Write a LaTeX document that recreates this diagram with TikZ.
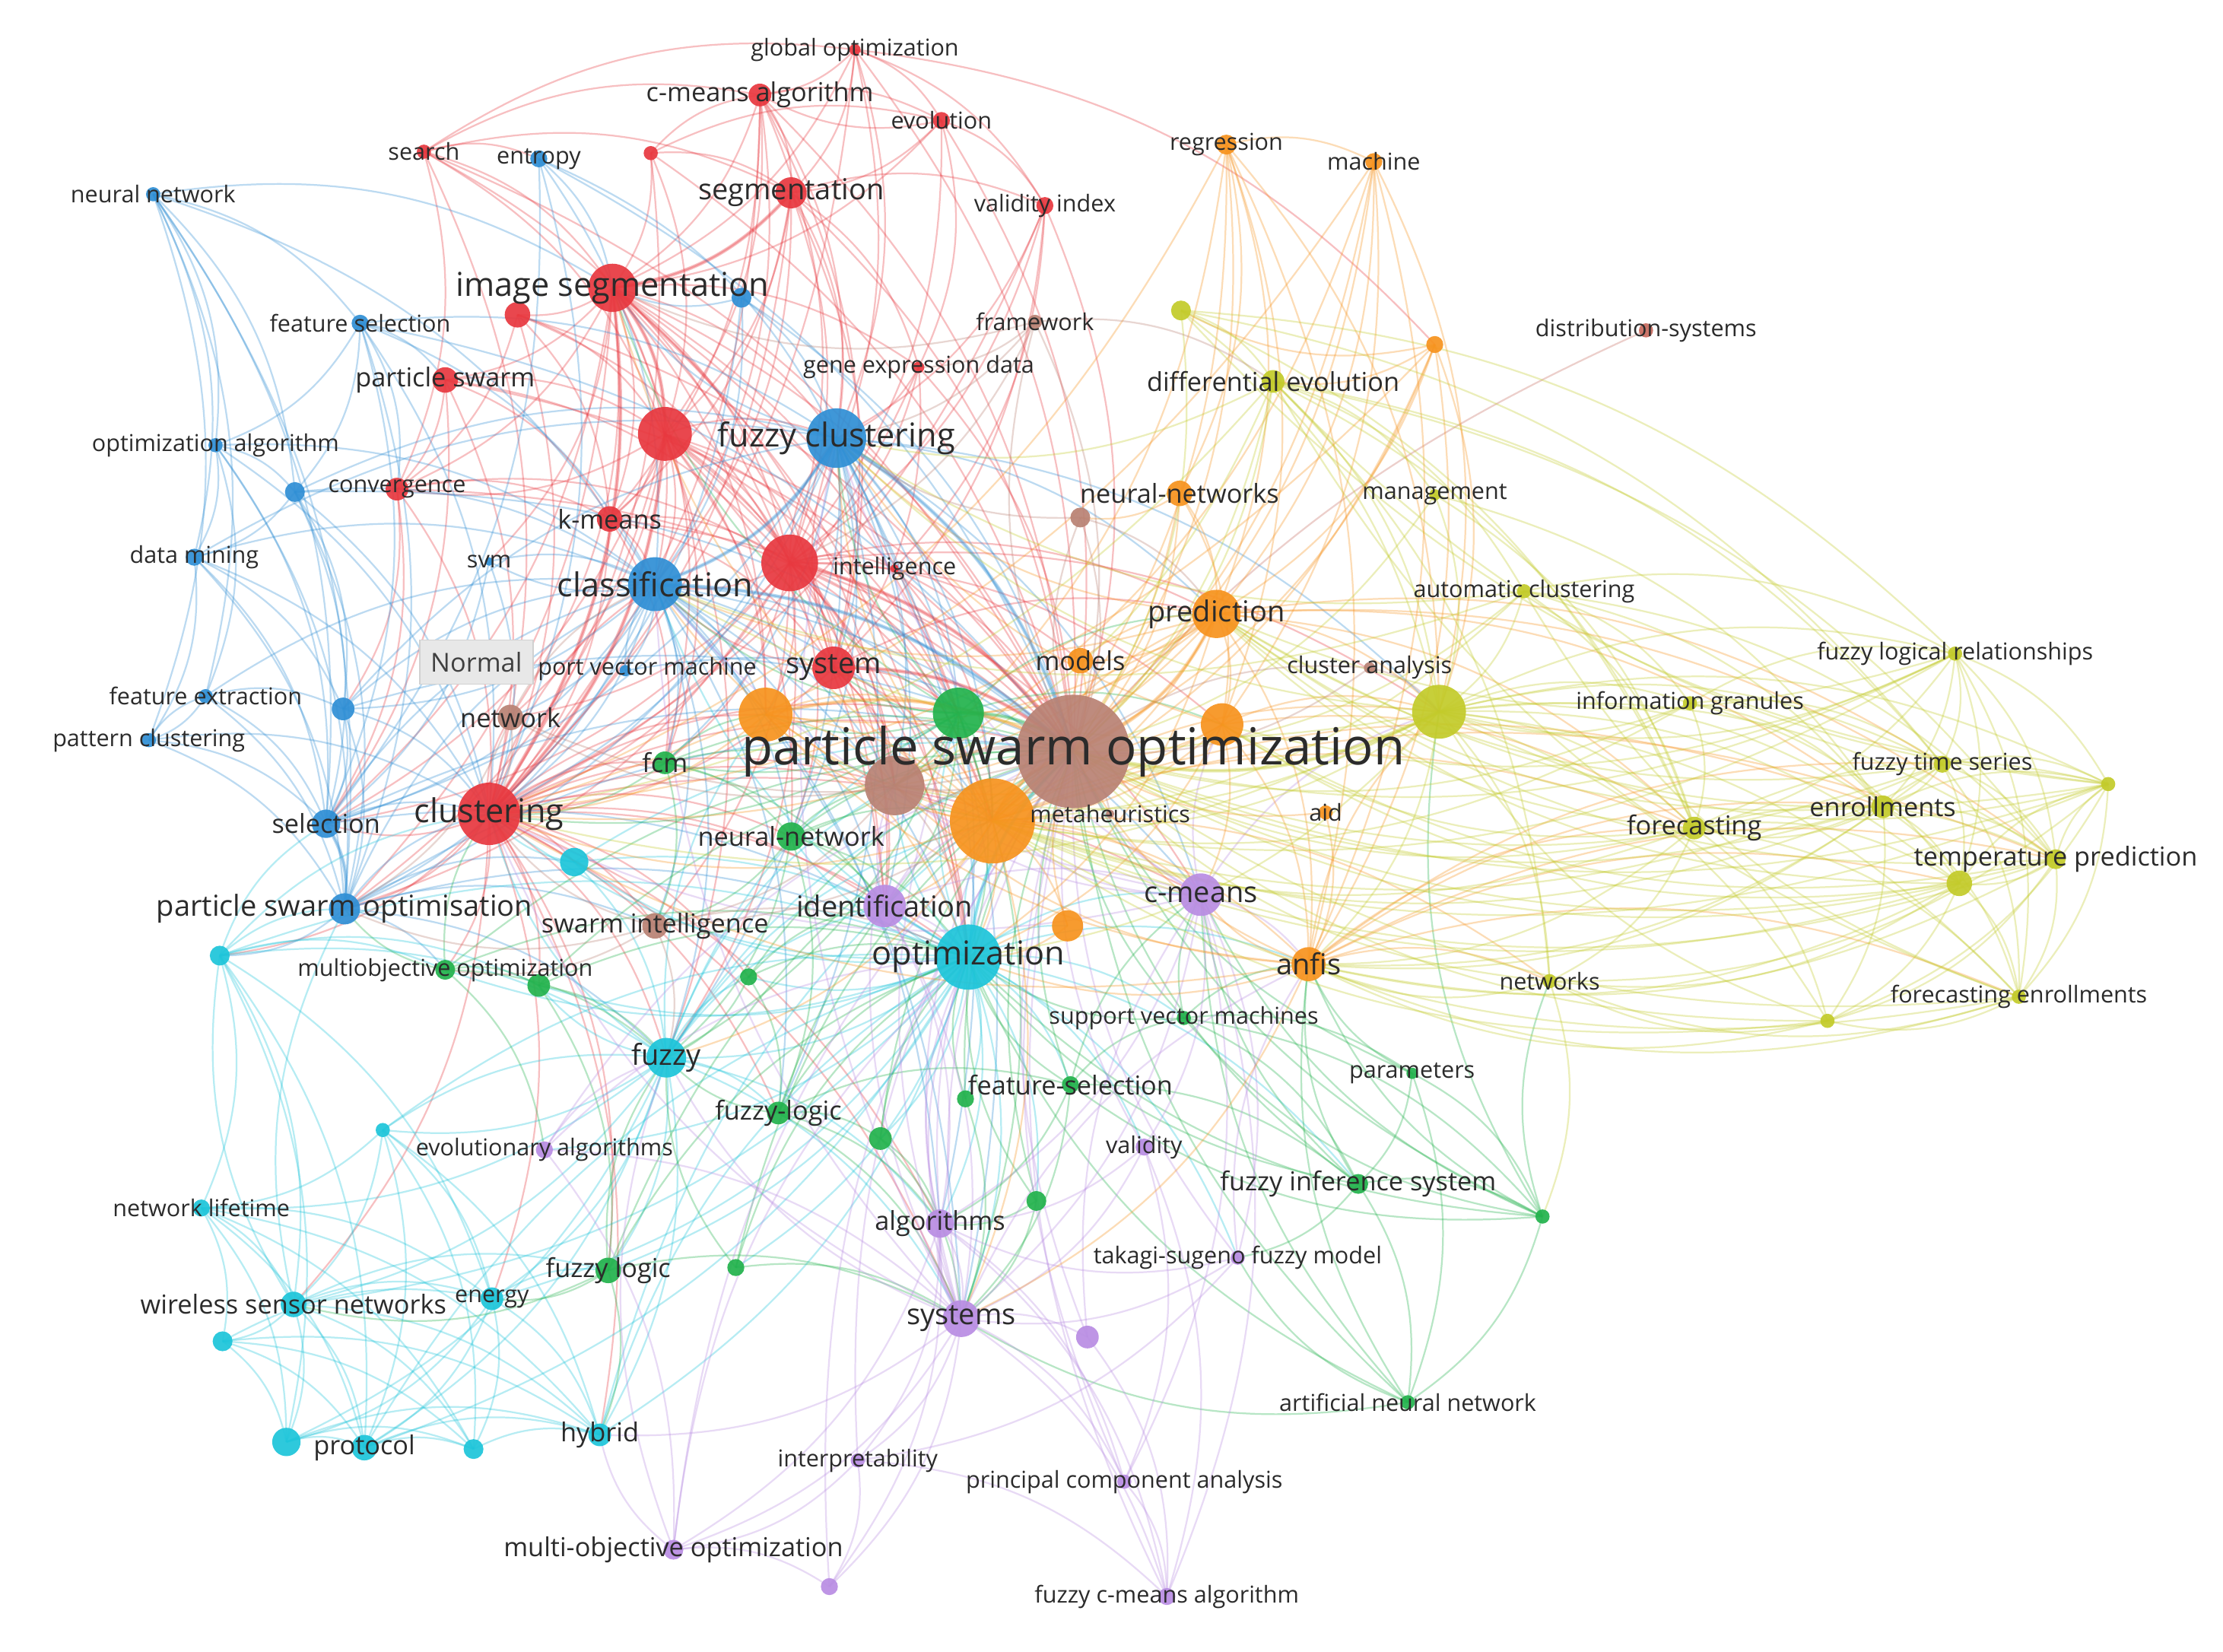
\documentclass[tikz,border=0pt]{standalone}
\usepackage{fontspec}
\setmainfont{Open Sans}
\pgfdeclarelayer{bg}
\pgfdeclarelayer{edges}
\pgfsetlayers{bg,edges,main}
\definecolor{cr}{HTML}{E8383F}
\definecolor{cb}{HTML}{2F8FD5}
\definecolor{cc}{HTML}{1DC5DA}
\definecolor{cg}{HTML}{22B24C}
\definecolor{cp}{HTML}{B98DE3}
\definecolor{co}{HTML}{F7931E}
\definecolor{cy}{HTML}{C3CB2A}
\definecolor{cbr}{HTML}{B98274}
\definecolor{cdist}{HTML}{C76A5E}
\definecolor{lbl}{HTML}{2B2B2B}
\tikzset{
  dot/.style={circle,inner sep=0pt,outer sep=0pt,fill opacity=0.92,draw=none},
  ed/.style={line width=0.6pt,draw opacity=0.32},
  edthick/.style={line width=1.3pt,draw opacity=0.32},
  l1/.style={font=\fontsize{8.2}{9}\selectfont,text=lbl,inner sep=0pt},
  l2/.style={font=\fontsize{9.2}{10}\selectfont,text=lbl,inner sep=0pt},
  l3/.style={font=\fontsize{10.2}{11}\selectfont,text=lbl,inner sep=0pt},
  l4/.style={font=\fontsize{11.6}{12}\selectfont,text=lbl,inner sep=0pt},
  l5/.style={font=\fontsize{18}{19}\selectfont,text=lbl,inner sep=0pt},
  tipbox/.style={draw=black!18,fill=black!9,text=black!75,font=\fontsize{9.2}{10}\selectfont,minimum width=40pt,minimum height=15.5pt,inner sep=0pt},
  curve/.style={bend left=20}
}
\begin{document}
\begin{tikzpicture}[x=0.5pt,y=-0.5pt]
\begin{pgfonlayer}{bg}
\path[use as bounding box,fill=white] (0,0) rectangle (1568,1165);
\end{pgfonlayer}
% ---------------- nodes (circles) ----------------
\foreach \n/\x/\y/\r in {gopt/603/35/4,cmalg/536/67/8,evol/664/85/6,search/299/107/5,rA/459/108/5,seg/558/136/11,valid/737/145/6,imseg/432/203/17,rB/365/222/9,pswarm/314/268/9,rC/469/306/19,gene/648/259/4,conv/280/345/8,kmeans/430/366/9,rD/557/397/20,intel/631/401/3,system/588/471/15,clust/345/574/22}
  \node[dot,fill=cr,minimum size=\r pt] (\n) at (\x,\y) {};
\node[dot,fill=cdist,minimum size=5pt] (dist) at (1161,233) {};
\foreach \n/\x/\y/\r in {nnet/108/137/5,entropy/380/112/6,fsel/254/228/6,bA/523/210/7,fclust/590/309/21,oalg/152/314/5,bB/208/347/7,dmine/137/393/6,classif/462/412/19,svm/345/396/3,fext/145/491/5,bC/242/500/8,pclust/105/522/5,select/230/581/10,pso2/243/641/11,svmach/441/473/4}
  \node[dot,fill=cb,minimum size=\r pt] (\n) at (\x,\y) {};
\foreach \n/\x/\y/\r in {cA/405/608/10,cB/155/674/7,optim/683/675/23,fuzzy/470/746/14,cC/270/797/5,nlife/142/852/6,wsn/207/920/9,energy/347/916/8,cD/157/946/7,cE/202/1017/10,protocol/257/1021/9,cF/334/1022/7,hybrid/423/1012/8}
  \node[dot,fill=cc,minimum size=\r pt] (\n) at (\x,\y) {};
\foreach \n/\x/\y/\r in {gA/676/503/18,fcm/469/538/8,nnet2/558/590/10,mobj/314/684/7,gB/380/695/8,gC/528/689/6,flogic2/549/785/8,gD/621/803/8,gE/681/775/6,fsel2/755/765/6,svms/835/718/5,params/996/757/4,fis/958/835/7,gF/1088/858/5,gG/731/847/7,flogic/429/896/9,gH/519/894/6,ann/993/989/5}
  \node[dot,fill=cg,minimum size=\r pt] (\n) at (\x,\y) {};
\foreach \n/\x/\y/\r in {ident/624/639/15,cmeans/847/631/15,evalg/384/811/6,validity/807/809/6,algos/663/863/10,takagi/873/887/5,systems/678/930/13,pA/767/943/8,interp/605/1030/5,pca/793/1045/5,moo/475/1093/7,pB/585/1119/6,fcmalg/823/1126/6}
  \node[dot,fill=cp,minimum size=\r pt] (\n) at (\x,\y) {};
\foreach \n/\x/\y/\r in {regr/865/102/7,machine/969/114/6,oA/1012/243/6,nnets/832/348/9,pred/858/433/17,models/762/466/9,oB/540/504/19,oC/862/511/15,oD/700/579/30,aid/935/573/5,anfis/923/680/12,oE/753/653/11}
  \node[dot,fill=co,minimum size=\r pt] (\n) at (\x,\y) {};
\foreach \n/\x/\y/\r in {yA/833/219/7,devol/898/269/8,mgmt/1012/349/4,autoc/1075/417/5,yB/1015/502/19,infog/1192/496/5,flr/1379/461/5,fts/1370/539/6,enroll/1328/569/8,forec/1195/584/8,tpred/1450/606/7,yC/1382/623/9,yD/1487/553/5,fenroll/1424/703/5,yE/1289/720/5,networks/1093/692/5}
  \node[dot,fill=cy,minimum size=\r pt] (\n) at (\x,\y) {};
\foreach \n/\x/\y/\r in {pso/757/530/40,brA/631/554/21,meta/783/574/3,network/360/506/9,swarm/462/653/9,framework/730/227/5,brB/762/365/7,canal/966/471/4}
  \node[dot,fill=cbr,minimum size=\r pt] (\n) at (\x,\y) {};
% ---------------- labels ----------------
\foreach \n/\s/\t in {gopt/1/global optimization,cmalg/2/c-means algorithm,evol/1/evolution,search/1/search,seg/3/segmentation,valid/1/validity index,imseg/4/image segmentation,pswarm/2/particle swarm,gene/1/gene expression data,conv/1/convergence,kmeans/2/k-means,intel/1/intelligence,system/3/system,clust/4/clustering,dist/1/distribution-systems,
nnet/1/neural network,entropy/1/entropy,fsel/1/feature selection,fclust/4/fuzzy clustering,oalg/1/optimization algorithm,dmine/1/data mining,classif/4/classification,svm/1/svm,fext/1/feature extraction,pclust/1/pattern clustering,select/2/selection,pso2/3/particle swarm optimisation,
optim/4/optimization,fuzzy/3/fuzzy,nlife/1/network lifetime,wsn/2/wireless sensor networks,energy/1/energy,protocol/2/protocol,hybrid/2/hybrid,
fcm/2/fcm,nnet2/2/neural-network,mobj/1/multiobjective optimization,flogic2/2/fuzzy-logic,fsel2/2/feature-selection,svms/1/support vector machines,params/1/parameters,fis/2/fuzzy inference system,flogic/2/fuzzy logic,ann/1/artificial neural network,
ident/3/identification,cmeans/3/c-means,evalg/1/evolutionary algorithms,validity/1/validity,algos/2/algorithms,takagi/1/takagi-sugeno fuzzy model,systems/3/systems,interp/1/interpretability,pca/1/principal component analysis,moo/2/multi-objective optimization,fcmalg/1/fuzzy c-means algorithm,
regr/1/regression,machine/1/machine,nnets/2/neural-networks,pred/3/prediction,models/2/models,aid/1/aid,anfis/3/anfis,
devol/2/differential evolution,mgmt/1/management,autoc/1/automatic clustering,canal/1/cluster analysis,infog/1/information granules,flr/1/fuzzy logical relationships,fts/1/fuzzy time series,enroll/2/enrollments,forec/2/forecasting,tpred/2/temperature prediction,fenroll/1/forecasting enrollments,networks/1/networks,
pso/5/particle swarm optimization,meta/1/metaheuristics,network/2/network,swarm/2/swarm intelligence,framework/1/framework}
  \node[l\s] (\n-t) at (\n.center) {\t};
% the tooltip hides the start of this label, as in the picture
\node[l1,anchor=west] (svmach-t) at (379,472) {port vector machine};
\node[tipbox] (normal) at (336,467) {Normal};
% ---------------- edges ----------------
\begin{pgfonlayer}{edges}
\foreach \a/\L in {
gopt/{pso,imseg,cmalg,seg,rD,clust,oA,fclust,evol,valid},
cmalg/{imseg,seg,rC,rD,pso,clust,evol,classif,fclust,system,kmeans},
evol/{seg,imseg,rD,pso,valid,gene,cmalg},
search/{imseg,rC,rD,clust,conv,entropy,pso,cmalg,seg,gopt},
rA/{imseg,rC,clust,seg,pso,cmalg,evol},
seg/{imseg,rC,rD,clust,fclust,pso,system,valid,kmeans,classif,gene},
valid/{rD,pso,fclust,clust,system,intel},
imseg/{rB,rC,rD,pswarm,clust,kmeans,classif,fclust,pso,system,conv,gene,oB,gA,brA,oD,svm,network,optim,ident,select,pso2,fcm},
rB/{rC,clust,pso,kmeans,conv,rD},
pswarm/{rC,clust,pso,conv,select,kmeans,rD},
rC/{rD,clust,pso,classif,kmeans,system,fclust,oB,brA,gA,oD,optim,fcm,conv,network,select,pso2,ident,fuzzy,nnet2},
gene/{fclust,rD,pso,clust,system},
conv/{clust,pso,rD,kmeans,select,bC},
kmeans/{clust,pso,rD,classif,system,fcm},
rD/{pso,clust,system,classif,oD,brA,gA,oB,optim,fcm,nnet2,ident,pred,oC,cmeans,yB,intel,models,fuzzy,swarm,network,fclust,select,pso2},
system/{pso,clust,oD,brA,gA,optim,pred,ident,fclust,classif},
clust/{pso,brA,oB,oD,gA,classif,fcm,nnet2,swarm,optim,select,pso2,cA,fuzzy,ident,mobj,network,flogic2,cmeans,systems,algos,hybrid,energy,wsn,gB,gC,flogic,cB},
intel/{pso,oD}}
  \foreach \b in \L \draw[ed,cr] (\a.center) to[curve] (\b.center);
\draw[ed,cdist] (dist.center) to[bend right=12] (pso.center);
\foreach \a/\L in {
nnet/{fsel,oalg,dmine,bB,classif,pclust,fext,select,pso2,imseg},
entropy/{imseg,fclust,classif,clust,select,pso},
fsel/{classif,fclust,bB,select,clust,pso2,conv,pso,oalg,pswarm},
bA/{fclust,classif,pso,clust,imseg},
fclust/{pso,classif,clust,oD,brA,gA,oB,optim,imseg,fcm,ident,cmeans,system,select,pso2,nnet2,yB,pred,fuzzy,systems,algos,flogic2},
oalg/{bB,dmine,select,pso2,classif,clust,fext},
bB/{select,pso2,classif,clust,dmine,bC,fclust,pso},
dmine/{select,pso2,classif,clust,bC,pclust,fclust},
classif/{pso,clust,select,pso2,brA,oB,oD,gA,optim,fcm,nnet2,ident,svm,network,svmach,swarm,fuzzy,bC,cmeans,systems,flogic2,algos},
svm/{clust,classif,select},
fext/{bC,select,pso2,pclust,classif},
bC/{select,pso2,clust,classif,fclust,pso},
pclust/{select,pso2,clust,fext},
select/{pso2,clust,pso,classif,optim},
pso2/{clust,pso,optim,fuzzy,cA,cB,mobj,classif,swarm},
svmach/{pso,classif}}
  \foreach \b in \L \draw[ed,cb] (\a.center) to[curve] (\b.center);
\foreach \a/\L in {
cA/{clust,pso,optim,fuzzy},
cB/{pso2,fuzzy,optim,wsn,nlife,mobj,gB,clust,select,energy,cE,protocol},
optim/{pso,fuzzy,ident,oD,brA,gA,oE,clust,classif,nnet2,systems,algos,fsel2,hybrid,energy,protocol,wsn,cmeans,anfis,flogic,gB,gC,gD,gE,gG,gH,mobj,evalg,validity,takagi,fis,svms,cA},
fuzzy/{pso,clust,flogic,flogic2,systems,wsn,energy,hybrid,protocol,cC,nlife,cE,gB,gC,ident,oD,brA,gA,oB,algos},
cC/{wsn,nlife,protocol,energy,fuzzy,optim,cF,hybrid},
nlife/{wsn,protocol,cD,cE,energy,cF,hybrid},
wsn/{protocol,energy,cE,cD,cF,hybrid,flogic,pso2,cB},
energy/{protocol,cE,cF,hybrid,flogic},
cD/{cE,protocol,cF,energy,hybrid},
cE/{protocol,cF,hybrid},
protocol/{cF,hybrid,optim},
cF/{hybrid},
hybrid/{optim,pso}}
  \foreach \b in \L \draw[ed,cc] (\a.center) to[curve] (\b.center);
\foreach \a/\L in {
gA/{pso,oD,brA,optim,ident,nnet2,fcm,oB,system,pred,oC,clust,classif,fclust,imseg,fuzzy,systems},
fcm/{pso,clust,nnet2,brA,oB,swarm,ident},
nnet2/{pso,brA,oD,ident,optim,fuzzy,flogic2,swarm},
mobj/{pso,clust,pso2,fuzzy,gB,evalg,optim},
gB/{pso,optim,fuzzy,flogic},
gC/{pso,optim,fuzzy,ident,flogic2},
flogic2/{pso,optim,fuzzy,algos,systems,gD,fsel2},
gD/{pso,optim,algos,systems},
gE/{pso,optim,systems},
fsel2/{pso,optim,svms,algos,systems,fis,cmeans},
svms/{pso,anfis,optim,fis,params,gF,cmeans},
params/{fis,gF,anfis,pso,ann},
fis/{gF,ann,anfis,pso,optim,takagi,cmeans},
gF/{ann,anfis,pso,yB,networks,cmeans,optim,fsel2,svms},
gG/{pso,systems,algos,optim},
flogic/{pso,fuzzy,systems,hybrid,energy,wsn,optim},
gH/{pso,fuzzy,systems,optim},
ann/{pso,anfis,optim,cmeans,systems,takagi}}
  \foreach \b in \L \draw[ed,cg] (\a.center) to[curve] (\b.center);
\foreach \a/\L in {
ident/{pso,oD,optim,systems,algos,brA,cmeans},
cmeans/{pso,oD,anfis,systems,algos,validity,takagi,pca,fcmalg,oC,clust,classif,fclust,yB,brA},
evalg/{pso,systems,optim,fuzzy,moo},
validity/{pso,systems,algos,pca,fcmalg},
algos/{pso,systems,moo,interp,pB,fcmalg,pca,optim},
takagi/{pso,systems,anfis,algos,interp},
systems/{pso,moo,interp,pB,pca,fcmalg,pA,optim,hybrid,oD,brA,gA,clust,classif,fclust,fuzzy,anfis},
pA/{pso,cmeans,fcmalg},
interp/{moo,pB,pso,fcmalg},
pca/{fcmalg,pso},
moo/{pB,pso,optim,fuzzy,hybrid},
pB/{pso},
fcmalg/{pso}}
  \foreach \b in \L \draw[ed,cp] (\a.center) to[curve] (\b.center);
\foreach \a/\L in {
regr/{pso,pred,oD,machine,yB,anfis,nnets,oC,brA,clust},
machine/{pso,pred,oD,oC,anfis,yB,brA,clust},
oA/{pso,pred,oD,anfis,yB,devol,yA,clust},
nnets/{pso,pred,oD,oC,brB},
pred/{pso,oD,oC,anfis,yB,brA,oB,models,gA,forec,tpred,fts,enroll,clust,classif,fclust,optim},
models/{pso,oD,pred},
oB/{pso,oD,brA,gA,clust,optim},
oC/{pso,oD,anfis,yB,forec,optim,cmeans,brA,fclust},
oD/{pso,brA,optim,anfis,cmeans,oE,forec,networks,enroll,tpred,clust,classif,fclust,imseg,oB,ident,gA,fuzzy,systems,yB,pred},
aid/{pso,anfis},
anfis/{pso,forec,tpred,networks,enroll,fts,yB,yC,fenroll,optim,brA,cmeans,systems,oB,clust},
oE/{pso,optim}}
  \foreach \b in \L \draw[ed,co] (\a.center) to[curve] (\b.center);
\foreach \a/\L in {
yA/{pso,devol,yB,forec,fts,flr},
devol/{pso,yB,forec,tpred,networks,mgmt,autoc,fts,oD,brA,clust,fclust},
mgmt/{yB,pso,forec,enroll},
autoc/{yB,pso,forec,infog,enroll,flr,tpred,oD,classif,fclust},
yB/{pso,forec,enroll,fts,flr,tpred,yC,infog,networks,fenroll,yD,yE,oD,brA,optim,classif,fclust,clust,anfis},
infog/{forec,fts,flr,enroll,yC,pso,yB,oD},
flr/{fts,enroll,tpred,yC,yD,forec,fenroll,pso,oD,yB,oC,pred},
fts/{enroll,tpred,yC,yD,forec,fenroll,pso,oD,pred,anfis},
enroll/{tpred,yC,yD,forec,fenroll,yE,pso,oD,anfis,pred},
forec/{tpred,yC,yD,fenroll,yE,networks,pso,oD,pred,anfis,oC},
tpred/{yC,yD,fenroll,yE,pso,oD,anfis,pred,oC},
yC/{yD,fenroll,yE,networks,pso,oD,anfis,pred,oC},
yD/{fenroll,yE,networks,pso,oD,yB,pred,yA,devol},
fenroll/{yE,networks,pso,anfis,oD,devol,autoc},
yE/{networks,pso,anfis,oD,yB},
networks/{pso,anfis,gF}}
  \foreach \b in \L \draw[ed,cy] (\a.center) to[curve] (\b.center);
\foreach \a/\L in {
pso/{brA,meta,network,swarm,framework,brB,canal},
brA/{oD,optim,swarm,network},
network/{clust,classif,pso2},
swarm/{pso2,clust,optim,fuzzy,mobj},
framework/{pso,imseg,devol,fclust,gene,rD},
brB/{pso,fclust,pred},
canal/{yB,pso}}
  \foreach \b in \L \draw[ed,cbr] (\a.center) to[curve] (\b.center);
% stronger links
\foreach \a/\b in {imseg/rC,imseg/clust,rC/clust,seg/imseg,rD/pso,system/pso}
  \draw[edthick,cr] (\a.center) to[curve] (\b.center);
\foreach \a/\b in {fclust/classif,fclust/pso,classif/pso,select/pso2}
  \draw[edthick,cb] (\a.center) to[curve] (\b.center);
\foreach \a/\b in {oD/pso,pred/pso,oB/pso}
  \draw[edthick,co] (\a.center) to[curve] (\b.center);
\draw[edthick,cc] (optim.center) to[curve] (pso.center);
\draw[edthick,cy] (yB.center) to[curve] (pso.center);
\draw[edthick,cg] (gA.center) to[curve] (pso.center);
\draw[edthick,cbr] (brA.center) to[curve] (pso.center);
\draw[edthick,cp] (systems.center) to[curve] (algos.center);
\end{pgfonlayer}
\end{tikzpicture}
\end{document}
